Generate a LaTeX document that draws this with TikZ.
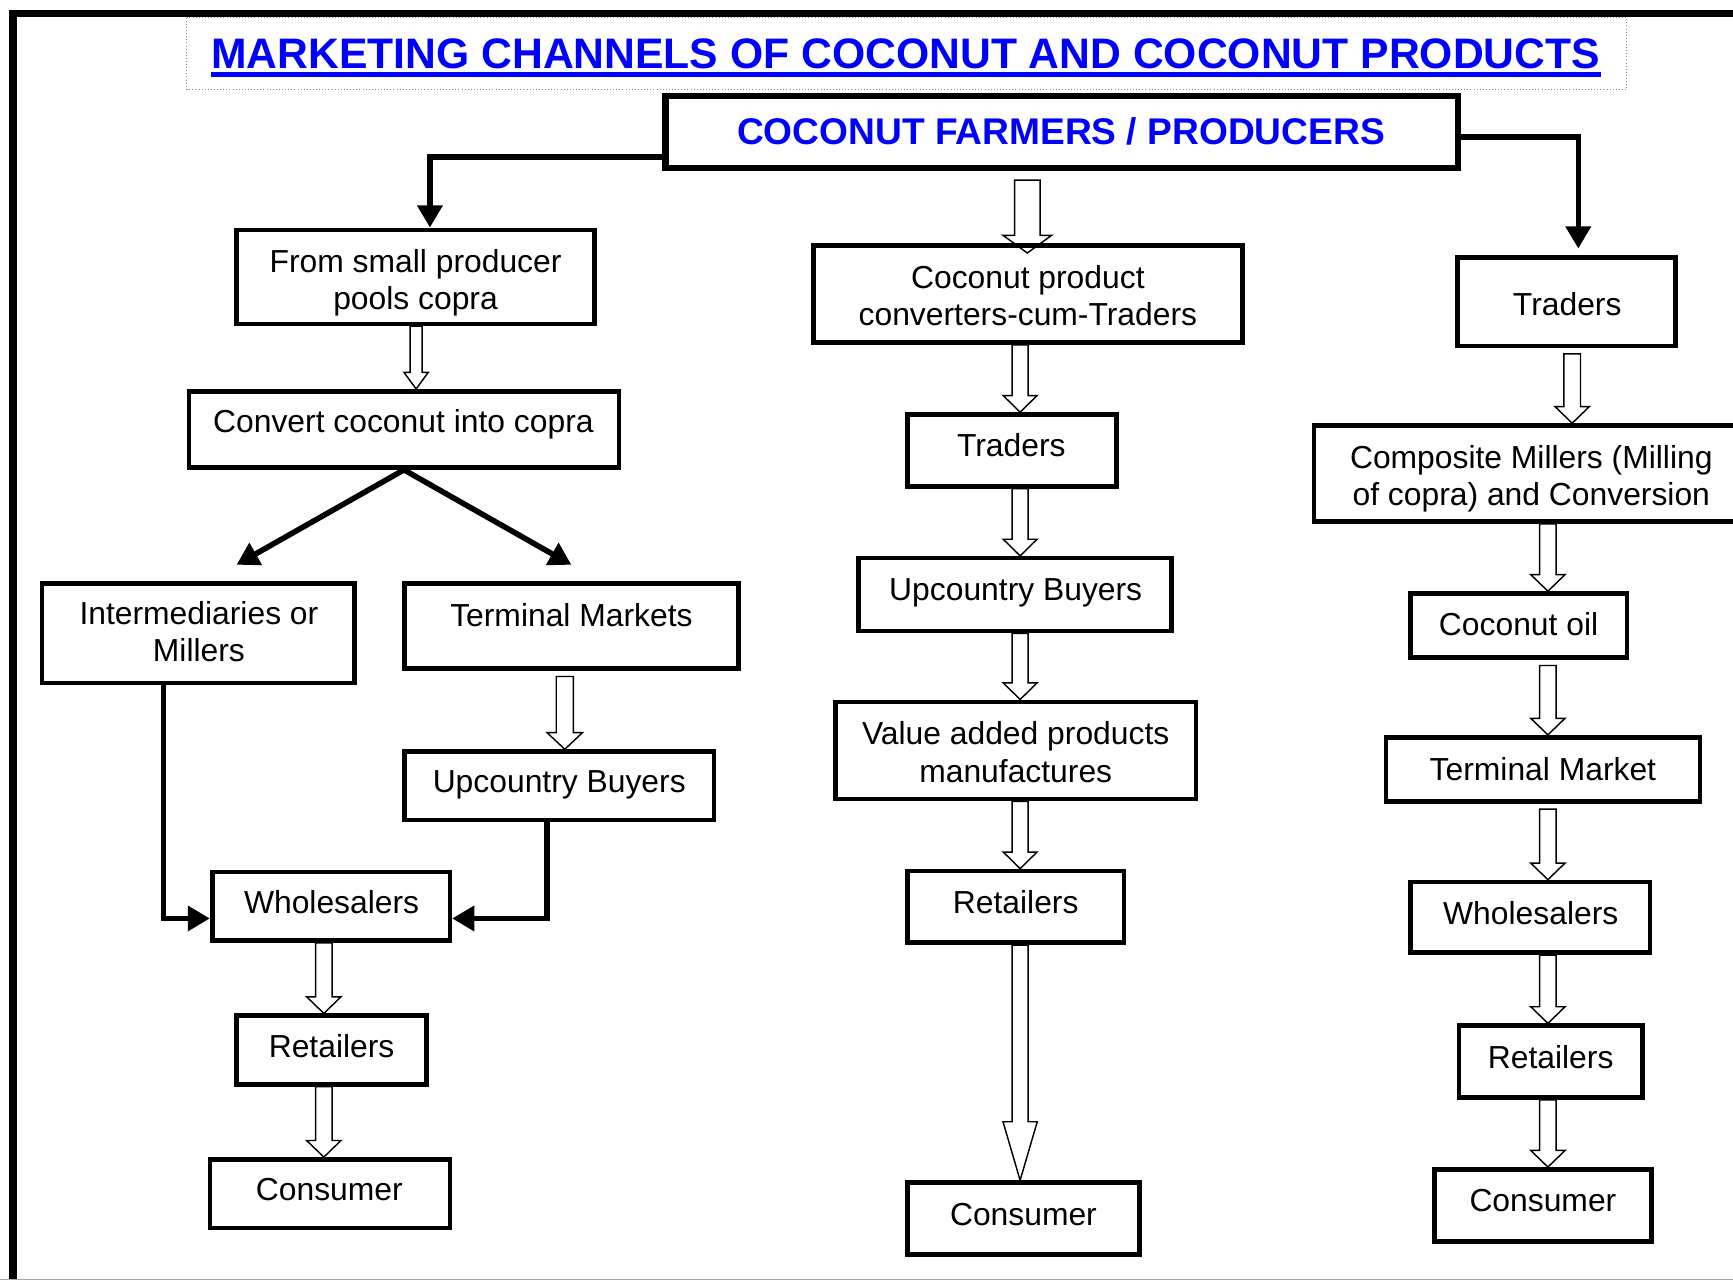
\documentclass[tikz,border=0pt]{standalone}
\usepackage{fontspec}
\setmainfont{Liberation Sans}
\usetikzlibrary{arrows.meta,calc,backgrounds}
\definecolor{ttlblue}{RGB}{0,0,255}
\definecolor{dotgray}{RGB}{140,140,140}
\newcommand\hollowarrow[5]{%
  \coordinate (hA) at (#1);
  \coordinate (hB) at (#2);
  \draw[hollow] ($(hA)+(-#3,0)$) -- ($(hB)+(-#3,-#5)$) -- ($(hB)+(-#4,-#5)$) -- (hB)
     -- ($(hB)+(#4,-#5)$) -- ($(hB)+(#3,-#5)$) -- ($(hA)+(#3,0)$) -- cycle;}
\begin{document}
\begin{tikzpicture}[x=0.5pt,y=-0.5pt,
  box/.style={draw, line width=2.1pt, inner sep=0pt},
  bigbox/.style={draw, line width=3pt, inner sep=0pt},
  t1/.style={font=\fontsize{14.4pt}{16.75pt}\selectfont, inner sep=0pt, text height=10.4pt, text depth=3pt},
  t2/.style={font=\fontsize{14.4pt}{16.75pt}\selectfont, inner sep=0pt, align=center},
  blk/.style={line width=2.5pt, -{Triangle[length=10pt,width=11pt]}},
  hollow/.style={draw=black, line width=0.65pt, fill=white, line join=miter},
]
\useasboundingbox (0,0) rectangle (1568,1158);
\clip (0,0) rectangle (1568,1158);

% page frame
\draw[line width=3.5pt] (11.7,1175) -- (11.7,12.3) -- (1585,12.3);
\draw[gray!70, line width=0.6pt] (0,1157.5) -- (1568,1157.5);

% title
\draw[dotgray, line width=0.4pt, densely dotted] (169,16) rectangle (1472,81);
\node[font=\fontsize{19.3pt}{23pt}\selectfont\bfseries, text=ttlblue, inner sep=0pt, anchor=base] (title) at (819.5,62) {MARKETING CHANNELS OF COCONUT AND COCONUT PRODUCTS};
\draw[ttlblue, line width=2.3pt] ([yshift=-2.75pt]title.base west) -- ([yshift=-2.75pt]title.base east);

% top box
\node[bigbox, minimum width=358.5pt, minimum height=32.5pt] (farmers) at (960.5,119.5) {};
\node[font=\fontsize{16.8pt}{20pt}\selectfont\bfseries, text=ttlblue, inner sep=0pt, anchor=base] (farmers-t) at (960,131) {COCONUT FARMERS / PRODUCERS};

% left column
\node[box, minimum width=162pt, minimum height=42.5pt] (small) at (376,250.5) {};
\node[box, minimum width=194.5pt, minimum height=34.5pt] (convert) at (365.5,388.5) {};
\node[box, minimum width=141.5pt, minimum height=45pt] (interm) at (179.5,573) {};
\node[box, minimum width=151pt, minimum height=38.5pt] (termM) at (517,566.5) {};
\node[box, minimum width=140pt, minimum height=31pt] (upc1) at (506,711) {};
\node[box, minimum width=107.5pt, minimum height=31pt] (whole1) at (299.5,820) {};
\node[box, minimum width=86pt, minimum height=31pt] (ret1) at (300,950) {};
\node[box, minimum width=108.5pt, minimum height=31pt] (cons1) at (298.5,1080) {};

% middle column
\node[box, minimum width=194pt, minimum height=44pt] (conv) at (930,266) {};
\node[box, minimum width=94.5pt, minimum height=32.5pt] (traders2) at (915.5,407.5) {};
\node[box, minimum width=141.5pt, minimum height=33pt] (upc2) at (918.5,538) {};
\node[box, minimum width=163pt, minimum height=44pt] (value) at (919,679) {};
\node[box, minimum width=98pt, minimum height=32.5pt] (ret2) at (919,820.5) {};
\node[box, minimum width=105pt, minimum height=32.5pt] (cons2) at (926,1102.5) {};

% right column
\node[box, minimum width=98.5pt, minimum height=40pt] (traders3) at (1417.5,273) {};
\node[box, minimum width=196.5pt, minimum height=43.5pt] (comp) at (1385.5,428.5) {};
\node[box, minimum width=98pt, minimum height=29pt] (oil) at (1374,566) {};
\node[box, minimum width=142pt, minimum height=29pt] (termMk) at (1396,696) {};
\node[box, minimum width=108.5pt, minimum height=32pt] (whole3) at (1384.5,830) {};
\node[box, minimum width=83pt, minimum height=32.5pt] (ret3) at (1403,960.5) {};
\node[box, minimum width=98pt, minimum height=32.5pt] (cons3) at (1396,1090.5) {};

% texts
\node[t2] (small-t) at (376,255.5) {From small producer\\pools copra};
\node[t1] (convert-t) at (365,384) {Convert coconut into copra};
\node[t2] (interm-t) at (180,571.5) {Intermediaries or\\Millers};
\node[t1] (termM-t) at (517,559) {Terminal Markets};
\node[t1] (upc1-t) at (506,710) {Upcountry Buyers};
\node[t1] (whole1-t) at (300,819) {Wholesalers};
\node[t1] (ret1-t) at (300,949) {Retailers};
\node[t1] (cons1-t) at (298,1079) {Consumer};

\node[t2] (conv-t) at (930,267.5) {Coconut product\\converters-cum-Traders};
\node[t1] (traders2-t) at (915,406) {Traders};
\node[t1] (upc2-t) at (919,536) {Upcountry Buyers};
\node[t2] (value-t) at (919,680.5) {Value added products\\manufactures};
\node[t1] (ret2-t) at (919,819) {Retailers};
\node[t1] (cons2-t) at (926,1101) {Consumer};

\node[t1] (traders3-t) at (1418,278) {Traders};
\node[t2] (comp-t) at (1385.5,433) {Composite Millers (Milling\\of copra) and Conversion};
\node[t1] (oil-t) at (1374,568) {Coconut oil};
\node[t1] (termMk-t) at (1396,699) {Terminal Market};
\node[t1] (whole3-t) at (1385,829) {Wholesalers};
\node[t1] (ret3-t) at (1403,959) {Retailers};
\node[t1] (cons3-t) at (1396,1089) {Consumer};

% rails
\coordinate (hL) at (0,142);
\coordinate (hR) at (0,124);
\coordinate (vL) at (389,0);
\coordinate (vR) at (1428,0);
\coordinate (h3) at (0,831);
\coordinate (v3) at (148,0);
\coordinate (v4) at (495,0);
\coordinate (dL) at (214,511);
\coordinate (dR) at (517,511);

% black connectors
\draw[blk] (farmers.west |- hL) -| (small.north -| vL);
\draw[blk, shorten >=3pt] (farmers.east |- hR) -| (traders3.north -| vR);
\draw[line width=2.5pt, {Triangle[length=10pt,width=11pt]}-{Triangle[length=10pt,width=11pt]}] (dL) -- (convert.south) -- (dR);
\draw[blk] (interm.south -| v3) |- (whole1.west |- h3);
\draw[blk] (upc1.south -| v4) |- (whole1.east |- h3);

% hollow connectors
\coordinate (xa1) at (929.5,0);
\coordinate (xs) at (376.5,0);
\coordinate (xt) at (511,0);
\coordinate (xw) at (293,0);
\coordinate (xm) at (923,0);
\coordinate (xr1) at (1422.5,0);
\coordinate (xr) at (1400.5,0);
\begin{pgfonlayer}{background}
\hollowarrow{$(farmers.south -| xa1)+(0,8)$}{$(conv.north -| xa1)+(0,9)$}{11.5}{22}{16}
\hollowarrow{small.south -| xs}{convert.north -| xs}{5.5}{11}{15}
\hollowarrow{$(termM.south -| xt)+(0,5)$}{upc1.north -| xt}{7.7}{16}{15}
\hollowarrow{whole1.south -| xw}{ret1.north -| xw}{7.5}{15.5}{15}
\hollowarrow{ret1.south -| xw}{cons1.north -| xw}{7.5}{15.5}{15}
\hollowarrow{conv.south -| xm}{traders2.north -| xm}{7.3}{15.3}{15}
\hollowarrow{traders2.south -| xm}{upc2.north -| xm}{7.3}{15.3}{15}
\hollowarrow{upc2.south -| xm}{value.north -| xm}{7.3}{15.3}{15}
\hollowarrow{value.south -| xm}{ret2.north -| xm}{7.3}{15.3}{15}
\hollowarrow{ret2.south -| xm}{cons2.north -| xm}{7.3}{15.5}{53}
\hollowarrow{$(traders3.south -| xr1)+(0,5)$}{comp.north -| xr1}{7.5}{15.5}{15}
\hollowarrow{comp.south -| xr}{oil.north -| xr}{7.5}{15.5}{15}
\hollowarrow{$(oil.south -| xr)+(0,5)$}{termMk.north -| xr}{7.5}{15.5}{15}
\hollowarrow{$(termMk.south -| xr)+(0,5)$}{whole3.north -| xr}{7.5}{15.5}{15}
\hollowarrow{whole3.south -| xr}{ret3.north -| xr}{7.5}{15.5}{15}
\hollowarrow{ret3.south -| xr}{cons3.north -| xr}{7.5}{15.5}{15}
\end{pgfonlayer}
\end{tikzpicture}
\end{document}
